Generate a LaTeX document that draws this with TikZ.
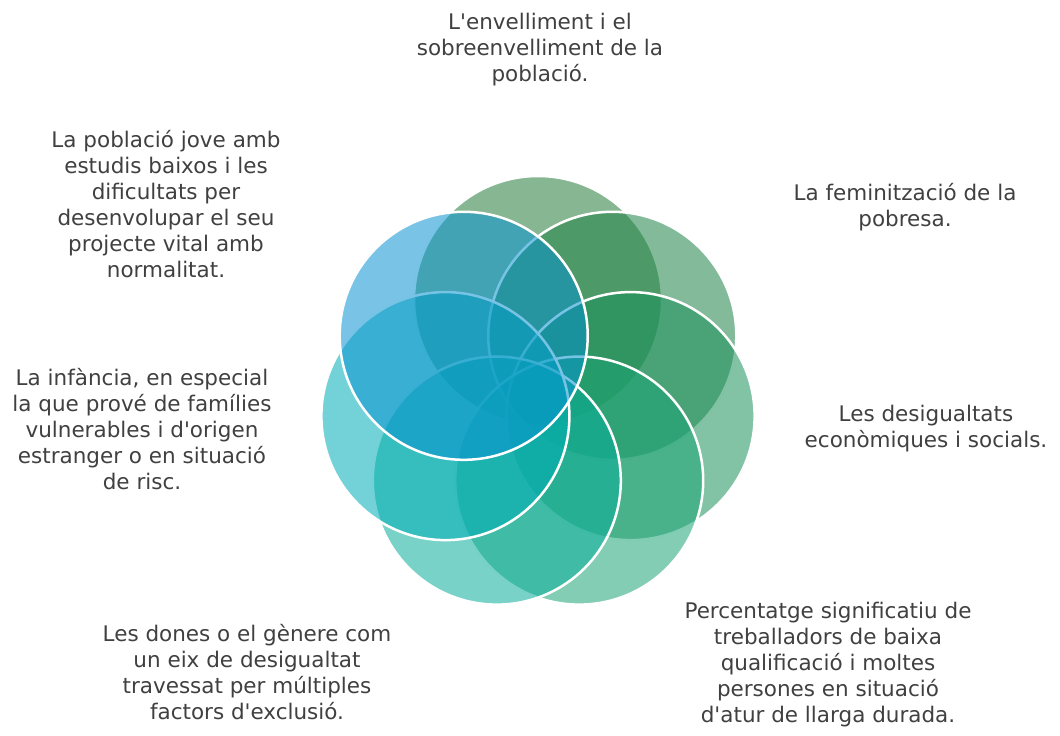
\documentclass[tikz,border=0pt]{standalone}
\usepackage{fontspec}
\setmainfont{DejaVu Sans}
\definecolor{cA}{RGB}{36,124,56}
\definecolor{cB}{RGB}{30,130,70}
\definecolor{cC}{RGB}{27,145,91}
\definecolor{cD}{RGB}{27,164,118}
\definecolor{cE}{RGB}{9,173,155}
\definecolor{cF}{RGB}{0,173,182}
\definecolor{cG}{RGB}{9,146,209}
\definecolor{txt}{RGB}{64,64,64}
\newcommand{\apos}{\textquotesingle}
\tikzset{
  ring/.style={circle, draw=white, line width=2.5pt, fill opacity=.55,
    inner sep=0pt, minimum size=248pt},
  lbl/.style={anchor=north, inner sep=0pt, align=center, text=txt,
    font=\fontsize{21.5}{26}\selectfont}
}
\begin{document}
\begin{tikzpicture}[x=1pt,y=-1pt]
		\useasboundingbox (0,0) rectangle (1060,736);
		% circles, clockwise from the top
		\node[ring, fill=cA] (c1) at (538,300) {};
		\node[ring, fill=cB] (c2) at (612.3,335.8) {};
		\node[ring, fill=cC] (c3) at (630.6,416.1) {};
		\node[ring, fill=cD] (c4) at (579.2,480.6) {};
		\node[ring, fill=cE] (c5) at (496.8,480.6) {};
		\node[ring, fill=cF] (c6) at (445.4,416.1) {};
		\node[ring, fill=cG] (c7) at (463.7,335.8) {};
		
		% texts
		\node[lbl] (t1) at (540,13) {L\apos envelliment i el\\sobreenvelliment de la\\població.};
		\node[lbl] (t2) at (905,183) {La feminització de la\\pobresa.};
		\node[lbl] (t3) at (926,405) {Les desigualtats\\econòmiques i socials.};
		\node[lbl] (t4) at (828,602) {Percentatge significatiu de\\treballadors de baixa\\qualificació i moltes\\persones en situació\\d\apos atur de llarga durada.};
		\node[lbl] (t5) at (247,624) {Les dones o el gènere com\\un eix de desigualtat\\travessat per múltiples\\factors d\apos exclusió.};
		\node[lbl] (t6) at (142,368) {La infància, en especial\\la que prové de famílies\\vulnerables i d\apos origen\\estranger o en situació\\de risc.};
		\node[lbl] (t7) at (166,130) {La població jove amb\\estudis baixos i les\\dificultats per\\desenvolupar el seu\\projecte vital amb\\normalitat.};
\end{tikzpicture}
\end{document}
